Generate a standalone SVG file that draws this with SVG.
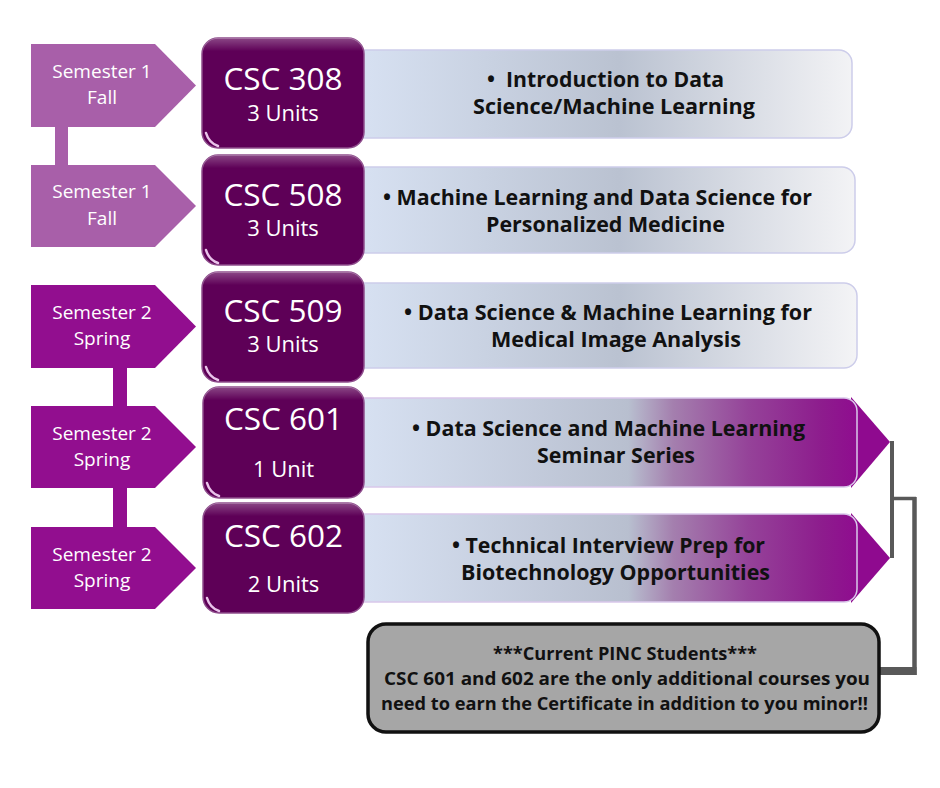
<svg xmlns="http://www.w3.org/2000/svg" width="940" height="788" viewBox="0 0 940 788">
<defs>
<linearGradient id="gGray" gradientUnits="userSpaceOnUse" x1="360" y1="0" x2="858" y2="0">
<stop offset="0" stop-color="#D7E1F2"/>
<stop offset="0.52" stop-color="#BAC2D1"/>
<stop offset="1" stop-color="#F4F4F6"/>
</linearGradient>
<linearGradient id="gPurple" gradientUnits="userSpaceOnUse" x1="360" y1="0" x2="857" y2="0">
<stop offset="0" stop-color="#D7E1F2"/>
<stop offset="0.54" stop-color="#B8BFCF"/>
<stop offset="0.63" stop-color="#A47FAE"/>
<stop offset="0.78" stop-color="#954399"/>
<stop offset="0.93" stop-color="#8D1C8D"/>
<stop offset="1" stop-color="#8F0C8F"/>
</linearGradient>
<linearGradient id="gGloss" x1="0" y1="0" x2="0" y2="1">
<stop offset="0" stop-color="#FFFFFF" stop-opacity="0.28"/>
<stop offset="0.12" stop-color="#FFFFFF" stop-opacity="0"/>
<stop offset="1" stop-color="#FFFFFF" stop-opacity="0"/>
</linearGradient>
</defs>
<style>
.semA{fill:#A85FA9}
.semB{fill:#920E8F}
.semT{font-family:"Open Sans","Noto Sans",sans-serif;font-size:19px;fill:#FFFFFF;text-anchor:middle}
.course{fill:#5E0057;stroke:#8E4D8C;stroke-width:1.5}
.gloss{fill:url(#gGloss)}
.hl{fill:none;stroke:#E9C3EA;stroke-width:2.5;stroke-linecap:round}
.cT{font-family:"Open Sans","Noto Sans",sans-serif;font-size:31.5px;fill:#FFFFFF;text-anchor:middle}
.uT{font-family:"Open Sans","Noto Sans",sans-serif;font-size:22px;fill:#FFFFFF;text-anchor:middle}
.barG{fill:url(#gGray);stroke:#CDCDEA;stroke-width:1.5}
.barP{fill:url(#gPurple);stroke:#D9C8EA;stroke-width:1.5}
.tri{fill:#8F0A8F}
.dT{font-family:"Open Sans","Noto Sans",sans-serif;font-weight:700;font-size:21.5px;fill:#111111;text-anchor:middle}
.note{fill:#A6A6A6;stroke:#111111;stroke-width:3.5}
.nT{font-family:"Open Sans","Noto Sans",sans-serif;font-weight:700;font-size:17.5px;fill:#111111;text-anchor:middle}
.ln{fill:none;stroke:#595959}
</style>

<g id="connectors">
<rect x="55" y="126" width="13" height="40" class="semA"/>
<rect x="113" y="367" width="14" height="40" class="semB"/>
<rect x="113" y="487" width="14" height="41" class="semB"/>
<path class="ln" stroke-width="4" d="M892,441 V558"/>
<path class="ln" stroke-width="3.5" d="M892,498.5 H916"/>
<path class="ln" stroke-width="4.5" d="M914.5,497 V675"/>
<path class="ln" stroke-width="8" d="M916.5,671 H880"/>
</g>

<g id="bar1">
<rect x="352" y="50" width="500" height="88" rx="13" class="barG"/>
<text class="dT" x="605.5" y="87" textLength="237" lengthAdjust="spacingAndGlyphs">•&#160; Introduction to Data</text>
<text class="dT" x="614" y="114" textLength="282" lengthAdjust="spacingAndGlyphs">Science/Machine Learning</text>
</g>
<g id="bar2">
<rect x="352" y="167" width="503" height="86" rx="13" class="barG"/>
<text class="dT" x="597.5" y="205" textLength="429" lengthAdjust="spacingAndGlyphs">• Machine Learning and Data Science for</text>
<text class="dT" x="605.5" y="232" textLength="239" lengthAdjust="spacingAndGlyphs">Personalized Medicine</text>
</g>
<g id="bar3">
<rect x="352" y="283" width="505" height="85" rx="13" class="barG"/>
<text class="dT" x="608" y="320" textLength="408" lengthAdjust="spacingAndGlyphs">• Data Science &amp; Machine Learning for</text>
<text class="dT" x="616" y="347" textLength="250" lengthAdjust="spacingAndGlyphs">Medical Image Analysis</text>
</g>
<g id="bar4">
<polygon class="tri" points="851,397 890,442 851,488"/>
<rect x="352" y="398" width="505" height="89" rx="13" class="barP"/>
<text class="dT" x="608.5" y="436" textLength="393" lengthAdjust="spacingAndGlyphs">• Data Science and Machine Learning</text>
<text class="dT" x="616" y="463" textLength="158" lengthAdjust="spacingAndGlyphs">Seminar Series</text>
</g>
<g id="bar5">
<polygon class="tri" points="851,513 890,558 851,603"/>
<rect x="352" y="514" width="505" height="88" rx="13" class="barP"/>
<text class="dT" x="608.5" y="553" textLength="313" lengthAdjust="spacingAndGlyphs">• Technical Interview Prep for</text>
<text class="dT" x="615.5" y="580" textLength="309" lengthAdjust="spacingAndGlyphs">Biotechnology Opportunities</text>
</g>

<g id="sem1">
<polygon class="semA" points="31,44 155,44 196,85.5 155,127 31,127"/>
<text class="semT" x="102" y="78">Semester 1</text>
<text class="semT" x="102" y="104">Fall</text>
</g>
<g id="sem2">
<polygon class="semA" points="31,165 155,165 196,206 155,247 31,247"/>
<text class="semT" x="102" y="198">Semester 1</text>
<text class="semT" x="102" y="225">Fall</text>
</g>
<g id="sem3">
<polygon class="semB" points="31,285 155,285 196,326.5 155,368 31,368"/>
<text class="semT" x="102" y="319">Semester 2</text>
<text class="semT" x="102" y="345">Spring</text>
</g>
<g id="sem4">
<polygon class="semB" points="31,406 155,406 196,447 155,488 31,488"/>
<text class="semT" x="102" y="440">Semester 2</text>
<text class="semT" x="102" y="466">Spring</text>
</g>
<g id="sem5">
<polygon class="semB" points="31,527 155,527 196,568 155,609 31,609"/>
<text class="semT" x="102" y="561">Semester 2</text>
<text class="semT" x="102" y="587">Spring</text>
</g>

<g id="csc308">
<rect x="202" y="38" width="162" height="110" rx="16" class="course"/>
<rect x="202" y="38" width="162" height="110" rx="16" class="gloss"/>
<path class="hl" d="M206,133 Q209,143 218,146"/>
<text class="cT" x="283" y="90">CSC 308</text>
<text class="uT" x="283" y="121">3 Units</text>
</g>
<g id="csc508">
<rect x="202" y="155" width="162" height="110" rx="16" class="course"/>
<rect x="202" y="155" width="162" height="110" rx="16" class="gloss"/>
<path class="hl" d="M206,250 Q209,260 218,263"/>
<text class="cT" x="283" y="206">CSC 508</text>
<text class="uT" x="283" y="236">3 Units</text>
</g>
<g id="csc509">
<rect x="202" y="272" width="162" height="110" rx="16" class="course"/>
<rect x="202" y="272" width="162" height="110" rx="16" class="gloss"/>
<path class="hl" d="M206,367 Q209,377 218,380"/>
<text class="cT" x="283" y="322">CSC 509</text>
<text class="uT" x="283" y="352">3 Units</text>
</g>
<g id="csc601">
<rect x="203" y="387" width="161" height="111" rx="16" class="course"/>
<rect x="203" y="387" width="161" height="111" rx="16" class="gloss"/>
<path class="hl" d="M207,483 Q210,493 219,496"/>
<text class="cT" x="283.5" y="430">CSC 601</text>
<text class="uT" x="283.5" y="477">1 Unit</text>
</g>
<g id="csc602">
<rect x="203" y="503" width="161" height="110" rx="16" class="course"/>
<rect x="203" y="503" width="161" height="110" rx="16" class="gloss"/>
<path class="hl" d="M207,598 Q210,608 219,611"/>
<text class="cT" x="283.5" y="547">CSC 602</text>
<text class="uT" x="283.5" y="592">2 Units</text>
</g>

<g id="note">
<rect x="368" y="624" width="511" height="108" rx="18" class="note"/>
<text class="nT" x="625" y="660" textLength="264" lengthAdjust="spacingAndGlyphs">***Current PINC Students***</text>
<text class="nT" x="627" y="685" textLength="486" lengthAdjust="spacingAndGlyphs">CSC 601 and 602 are the only additional courses you</text>
<text class="nT" x="624.5" y="710" textLength="487" lengthAdjust="spacingAndGlyphs">need to earn the Certificate in addition to you minor!!</text>
</g>
</svg>
